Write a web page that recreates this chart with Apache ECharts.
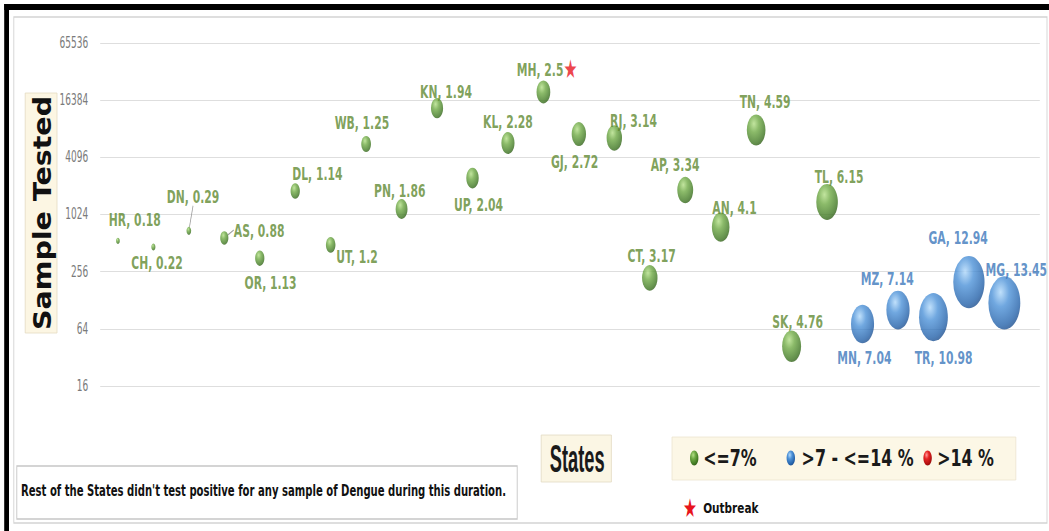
<!DOCTYPE html>
<html>
<head>
<meta charset="utf-8">
<script src="https://cdn.jsdelivr.net/npm/echarts/dist/echarts.min.js"></script>
<style>
  html, body { margin: 0; padding: 0; background: #fff; overflow: hidden; width: 1049px; height: 531px; }
  /* the chart is laid out on a wider canvas and compressed horizontally */
  #chart { width: 1749px; height: 531px; transform: scaleX(0.6); transform-origin: 0 0; }
</style>
</head>
<body>
<div id="chart"></div>
<script>
// State codes, ordered by test positivity
const states = ['HR','CH','DN','AS','OR','DL','UT','WB','PN','KN','UP','KL','MH','GJ','RJ','CT','AP','AN','TN','SK','TL','MN','MZ','TR','GA','MG'];
// Positivity (%) – drawn as bubble size
const positivity = [0.18,0.22,0.29,0.88,1.13,1.14,1.2,1.25,1.86,1.94,2.04,2.28,2.5,2.72,3.14,3.17,3.34,4.1,4.59,4.76,6.15,7.04,7.14,10.98,12.94,13.45];
// Number of samples tested
const samplesTested = [540,465,690,580,355,1810,490,5660,1170,13500,2480,5800,20000,7200,6550,220,1850,755,7950,42,1390,72,101,85,199,120];
// States flagged with an outbreak
const outbreakStates = ['MH'];
// Y axis ticks (log base 4)
const yTicks = [16,64,256,1024,4096,16384,65536];
// Legend classes
const classLabels = ['<=7%', '>7 - <=14 %', '>14 %'];
const noteText = "Rest of the States didn't test positive for any sample of Dengue during this duration.";

// label placement around each bubble (px, relative to bubble centre)
const labelOffsets = {
  HR:[28,-22], CH:[6,15], DN:[7,-34], AS:[58,-8], OR:[18,24], DL:[37,-18], UT:[44,11],
  WB:[-7,-22], PN:[-3,-19], KN:[15,-17], UP:[10,26], KL:[0,-22], MH:[6,-23], GJ:[-7,27],
  RJ:[32,-18], CT:[3,-23], AP:[-17,-26], AN:[23,-20], TN:[15,-29], SK:[10,-25], TL:[20,-26],
  MN:[3,33], MZ:[-18,-32], TR:[17,40], GA:[-18,-45], MG:[20,-34]
};
const leaderLines = ['DN','AS'];

const palette = {
  green: { stops: ['#b2de86','#6ea944','#3e7621','#2a5414'], text: '#5e8930' },
  blue:  { stops: ['#b0d8fa','#4d92d8','#2462aa','#184582'], text: '#3b77bb' },
  red:   { stops: ['#ff9b9b','#e62424','#ad0f0f','#800808'], text: '#d01c1c' }
};
function sphere(p) {
  return new echarts.graphic.RadialGradient(0.38, 0.3, 0.78, [
    { offset: 0, color: p.stops[0] },
    { offset: 0.35, color: p.stops[1] },
    { offset: 0.8, color: p.stops[2] },
    { offset: 1, color: p.stops[3] }
  ]);
}
function classOf(v) { return v <= 7 ? palette.green : (v <= 14 ? palette.blue : palette.red); }

const labelFont = 'DejaVu Sans';
const data = states.map((s, i) => {
  const c = classOf(positivity[i]);
  const star = outbreakStates.indexOf(s) >= 0;
  return {
    name: s,
    value: [i + 1, samplesTested[i], positivity[i]],
    itemStyle: { color: sphere(c) },
    label: {
      color: c.text,
      formatter: star ? '{t|' + s + ', ' + positivity[i] + '}{s|★}' : s + ', ' + positivity[i],
      rich: star ? { t: { color: c.text, fontSize: 18, fontWeight: 'bold', fontFamily: labelFont }, s: { color: '#e8141c', fontSize: 26, fontFamily: labelFont } } : undefined
    },
    labelLine: { show: leaderLines.indexOf(s) >= 0 }
  };
});

const chart = echarts.init(document.getElementById('chart'), null, { renderer: 'svg', width: 1749, height: 531 });

const legendY = 458;
const legendItems = [
  { ball: 1157, text: 1172, label: classLabels[0], c: palette.green },
  { ball: 1318, text: 1336, label: classLabels[1], c: palette.blue },
  { ball: 1546, text: 1562, label: classLabels[2], c: palette.red }
];
const centered = { textAlign: 'center', textVerticalAlign: 'middle', align: 'center', verticalAlign: 'middle' };
const leftMid = { textAlign: 'left', textVerticalAlign: 'middle', align: 'left', verticalAlign: 'middle' };
const graphics = [
  // frame
  { type: 'rect', shape: { x: 23, y: 17, width: 1722, height: 506 }, style: { fill: 'none', stroke: '#d3d3d3', lineWidth: 1.5 }, z: 0 },
  { type: 'rect', shape: { x: 7, y: 4, width: 1742, height: 6 }, style: { fill: '#000' } },
  { type: 'rect', shape: { x: 7, y: 4, width: 8, height: 527 }, style: { fill: '#000' } },
  // y axis title
  { type: 'rect', shape: { x: 42, y: 93, width: 53, height: 240 }, style: { fill: '#fcf6e3', stroke: '#e4dcc2', lineWidth: 1 } },
  { type: 'text', x: 70, y: 213, rotation: Math.PI / 2, scaleY: 1.45,
    style: Object.assign({ text: 'Sample Tested', font: 'bold 28.5px "DejaVu Sans"', fill: '#111' }, centered) },
  // x axis title
  { type: 'rect', shape: { x: 902, y: 435, width: 117, height: 47 }, style: { fill: '#fbf6e4', stroke: '#e2dbc3', lineWidth: 1 } },
  { type: 'text', x: 962, y: 459, scaleX: 0.8,
    style: Object.assign({ text: 'States', font: 'bold 38px "Liberation Sans"', fill: '#1a1a1a' }, centered) },
  // legend
  { type: 'rect', shape: { x: 1120, y: 437, width: 573, height: 43 }, style: { fill: '#fcf7e6', stroke: '#ece5cf', lineWidth: 1 } },
  // note
  { type: 'rect', shape: { x: 28, y: 466, width: 834, height: 53 }, style: { fill: '#fff', stroke: '#c6c6c6', lineWidth: 1.5 } },
  { type: 'text', x: 35, y: 491, scaleX: 1.12,
    style: Object.assign({ text: noteText, font: 'bold 15px "DejaVu Sans"', fill: '#111' }, leftMid) },
  // outbreak marker
  { type: 'text', x: 1150, y: 508, style: Object.assign({ text: '★', font: '26px "DejaVu Sans"', fill: '#e8141c' }, centered) },
  { type: 'text', x: 1172, y: 508, scaleX: 1.25,
    style: Object.assign({ text: 'Outbreak', font: 'bold 14px "DejaVu Sans"', fill: '#111' }, leftMid) }
];
legendItems.forEach(it => {
  graphics.push({ type: 'ellipse', shape: { cx: it.ball, cy: legendY, rx: 7, ry: 7.5 }, style: { fill: sphere(it.c) } });
  graphics.push({ type: 'text', x: it.text, y: legendY, scaleX: 1.15,
    style: Object.assign({ text: it.label, font: 'bold 23px "DejaVu Sans"', fill: '#1a1a1a' }, leftMid) });
});

chart.setOption({
  animation: false,
  backgroundColor: '#fff',
  grid: { left: 167, right: 16, top: 43, bottom: 145, containLabel: false },
  xAxis: { type: 'value', min: 0.5, max: 27, show: false },
  yAxis: {
    type: 'log', logBase: 4, min: yTicks[0], max: yTicks[yTicks.length - 1],
    axisLine: { show: false }, axisTick: { show: false },
    splitLine: { show: true, lineStyle: { color: '#dedede', width: 1.2 } },
    axisLabel: { color: '#7a7a7a', fontSize: 15, fontFamily: 'DejaVu Sans', margin: 20, formatter: v => String(Math.round(v)) }
  },
  graphic: graphics,
  series: [{
    type: 'scatter',
    data: data,
    symbol: 'circle',
    symbolSize: v => 14.5 * Math.sqrt(v[2]),
    label: { show: true, position: 'inside', fontSize: 18, fontWeight: 'bold', fontFamily: labelFont },
    labelLayout: p => { const o = labelOffsets[states[p.dataIndex]]; return { dx: o[0], dy: o[1] }; },
    labelLine: { show: false, lineStyle: { color: '#9a9a9a', width: 1.2 } },
    emphasis: { disabled: true }
  }]
});
</script>
</body>
</html>
